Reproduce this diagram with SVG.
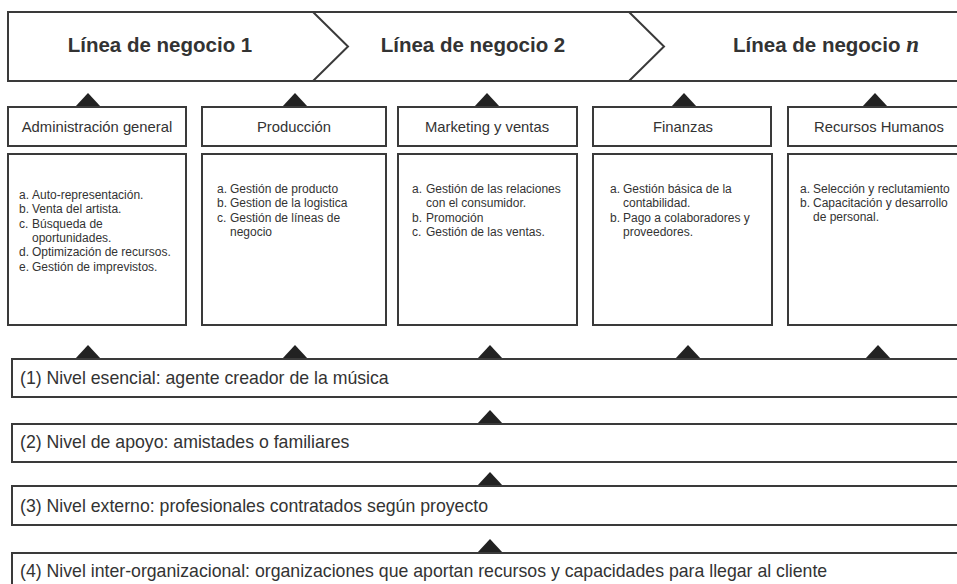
<svg xmlns="http://www.w3.org/2000/svg" width="957" height="584" viewBox="0 0 957 584">
<style>
.box{fill:#fff;stroke:#3a3a3a;stroke-width:2}
.ln{fill:none;stroke:#3a3a3a;stroke-width:2}
.tri{fill:#222}
.h1{font-family:"Liberation Sans",Arial,sans-serif;font-weight:bold;font-size:20.5px;fill:#333;text-anchor:middle}
.h2{font-family:"Liberation Sans",Arial,sans-serif;font-size:14.8px;fill:#333;text-anchor:middle}
.li{font-family:"Liberation Sans",Arial,sans-serif;font-size:12px;fill:#333}
.lv{font-family:"Liberation Sans",Arial,sans-serif;font-size:17.7px;fill:#333}
</style>
<rect width="957" height="584" fill="#fff"/>
<g id="banner">
<path class="ln" d="M970 12 H8 V81 H970"/>
<path class="ln" d="M313 12 L348 46.5 L313 81"/>
<path class="ln" d="M629 12 L664 46.5 L629 81"/>
<text class="h1" x="160" y="52">Línea de negocio 1</text>
<text class="h1" x="473" y="52">Línea de negocio 2</text>
<text class="h1" x="826" y="52">Línea de negocio <tspan font-family="'Liberation Serif',serif" font-style="italic" font-size="23">n</tspan></text>
</g>
<g id="connectors">
<path class="tri" d="M75 107 L88 93 L101 107Z"/>
<path class="tri" d="M282 107 L295 93 L308 107Z"/>
<path class="tri" d="M474 107 L487 93 L500 107Z"/>
<path class="tri" d="M671 107 L684 93 L697 107Z"/>
<path class="tri" d="M862 107 L875 93 L888 107Z"/>
<path class="tri" d="M75 359 L88 345 L101 359Z"/>
<path class="tri" d="M282 359 L295 345 L308 359Z"/>
<path class="tri" d="M477 359 L490 345 L503 359Z"/>
<path class="tri" d="M675 359 L688 345 L701 359Z"/>
<path class="tri" d="M865 359 L878 345 L891 359Z"/>
<path class="tri" d="M477 424 L490 410 L503 424Z"/>
<path class="tri" d="M477 486 L490 472 L503 486Z"/>
<path class="tri" d="M477 553 L490 539 L503 553Z"/>
</g>
<g id="admin">
<rect class="box" x="8" y="107" width="178" height="39"/>
<text class="h2" x="97" y="132">Administración general</text>
<rect class="box" x="8" y="154" width="178" height="171"/>
<text class="li" x="19" y="199">a.</text><text class="li" x="32" y="199">Auto-representación.</text>
<text class="li" x="19" y="213">b.</text><text class="li" x="32" y="213">Venta del artista.</text>
<text class="li" x="19" y="228">c.</text><text class="li" x="32" y="228">Búsqueda de</text>
<text class="li" x="32" y="242">oportunidades.</text>
<text class="li" x="19" y="256">d.</text><text class="li" x="32" y="256">Optimización de recursos.</text>
<text class="li" x="19" y="271">e.</text><text class="li" x="32" y="271">Gestión de imprevistos.</text>
</g>
<g id="produccion">
<rect class="box" x="202" y="107" width="184" height="39"/>
<text class="h2" x="294" y="132">Producción</text>
<rect class="box" x="202" y="154" width="184" height="171"/>
<text class="li" x="217" y="193">a.</text><text class="li" x="230" y="193">Gestión de producto</text>
<text class="li" x="217" y="207">b.</text><text class="li" x="230" y="207">Gestion de la logistica</text>
<text class="li" x="217" y="222">c.</text><text class="li" x="230" y="222">Gestión de líneas de</text>
<text class="li" x="230" y="236">negocio</text>
</g>
<g id="marketing">
<rect class="box" x="398" y="107" width="179" height="39"/>
<text class="h2" x="487" y="132">Marketing y ventas</text>
<rect class="box" x="398" y="154" width="179" height="171"/>
<text class="li" x="412" y="193">a.</text><text class="li" x="426" y="193">Gestión de las relaciones</text>
<text class="li" x="426" y="207">con el consumidor.</text>
<text class="li" x="412" y="222">b.</text><text class="li" x="426" y="222">Promoción</text>
<text class="li" x="412" y="236">c.</text><text class="li" x="426" y="236">Gestión de las ventas.</text>
</g>
<g id="finanzas">
<rect class="box" x="593" y="107" width="178" height="39"/>
<text class="h2" x="683" y="132">Finanzas</text>
<rect class="box" x="593" y="154" width="179" height="171"/>
<text class="li" x="610" y="193">a.</text><text class="li" x="623" y="193">Gestión básica de la</text>
<text class="li" x="623" y="207">contabilidad.</text>
<text class="li" x="610" y="222">b.</text><text class="li" x="623" y="222">Pago a colaboradores y</text>
<text class="li" x="623" y="236">proveedores.</text>
</g>
<g id="rrhh">
<rect class="box" x="788" y="107" width="190" height="39"/>
<text class="h2" x="879" y="132">Recursos Humanos</text>
<rect class="box" x="788" y="154" width="190" height="171"/>
<text class="li" x="800" y="193">a.</text><text class="li" x="813" y="193">Selección y reclutamiento</text>
<text class="li" x="800" y="207">b.</text><text class="li" x="813" y="207">Capacitación y desarrollo</text>
<text class="li" x="813" y="221">de personal.</text>
</g>
<g id="nivel1">
<rect class="box" x="12" y="359" width="970" height="38"/>
<text class="lv" x="20" y="384">(1) Nivel esencial: agente creador de la música</text>
</g>
<g id="nivel2">
<rect class="box" x="12" y="424" width="970" height="38"/>
<text class="lv" x="20" y="448">(2) Nivel de apoyo: amistades o familiares</text>
</g>
<g id="nivel3">
<rect class="box" x="12" y="486" width="970" height="39"/>
<text class="lv" x="20" y="512">(3) Nivel externo: profesionales contratados según proyecto</text>
</g>
<g id="nivel4">
<rect class="box" x="12" y="553" width="970" height="50"/>
<text class="lv" x="20" y="577">(4) Nivel inter-organizacional: organizaciones que aportan recursos y capacidades para llegar al cliente</text>
</g>
</svg>
